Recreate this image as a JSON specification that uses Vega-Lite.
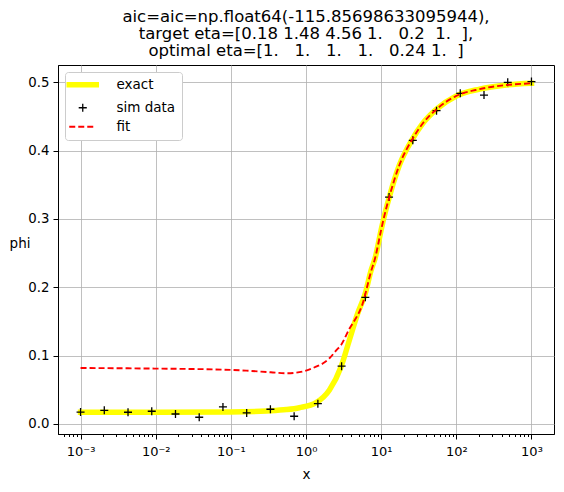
{
  "$schema": "https://vega.github.io/schema/vega-lite/v6.json",
  "width": 496,
  "height": 369,
  "autosize": {"type": "none"},
  "padding": {"left": 58, "top": 65, "right": 10, "bottom": 58},
  "background": "white",
  "title": {
    "text": ["aic=aic=np.float64(-115.85698633095944),", "target eta=[0.18 1.48 4.56 1.\u00a0\u00a0 0.2\u00a0 1.\u00a0 ],", "optimal eta=[1.\u00a0\u00a0 1.\u00a0\u00a0 1.\u00a0\u00a0 1.\u00a0\u00a0 0.24 1.\u00a0 ]"],
    "font": "DejaVu Sans",
    "fontSize": 16.5,
    "fontWeight": "normal",
    "color": "black",
    "anchor": "middle",
    "offset": 5,
    "lineHeight": 17.2
  },
  "config": {
    "font": "DejaVu Sans",
    "view": {"stroke": "black", "strokeWidth": 1},
    "axis": {
      "labelFont": "DejaVu Sans", "labelFontSize": 13.3, "labelColor": "black",
      "titleFont": "DejaVu Sans", "titleFontSize": 13.5, "titleFontWeight": "normal", "titleColor": "black",
      "tickColor": "black", "domainColor": "black", "gridColor": "#b0b0b0", "gridWidth": 0.8, "gridOpacity": 1,
      "tickSize": 5, "labelPadding": 4
    }
  },
  "data": {
    "values": [
      {"series": "exact", "x": 0.001, "phi": 0.0172},
      {"series": "exact", "x": 0.01, "phi": 0.0172},
      {"series": "exact", "x": 0.1, "phi": 0.0175},
      {"series": "exact", "x": 0.3, "phi": 0.019},
      {"series": "exact", "x": 0.55, "phi": 0.021},
      {"series": "exact", "x": 0.815, "phi": 0.0238},
      {"series": "exact", "x": 1.36, "phi": 0.0312},
      {"series": "exact", "x": 2.05, "phi": 0.0497},
      {"series": "exact", "x": 2.93, "phi": 0.0838},
      {"series": "exact", "x": 3.78, "phi": 0.1229},
      {"series": "exact", "x": 4.88, "phi": 0.162},
      {"series": "exact", "x": 6.11, "phi": 0.19},
      {"series": "exact", "x": 7.35, "phi": 0.225},
      {"series": "exact", "x": 8.3, "phi": 0.2425},
      {"series": "exact", "x": 10, "phi": 0.284},
      {"series": "exact", "x": 10.7, "phi": 0.2985},
      {"series": "exact", "x": 12.9, "phi": 0.333},
      {"series": "exact", "x": 17.5, "phi": 0.379},
      {"series": "exact", "x": 25.6, "phi": 0.4155},
      {"series": "exact", "x": 35.9, "phi": 0.44},
      {"series": "exact", "x": 55.1, "phi": 0.461},
      {"series": "exact", "x": 100, "phi": 0.48},
      {"series": "exact", "x": 204, "phi": 0.49},
      {"series": "exact", "x": 464, "phi": 0.496},
      {"series": "exact", "x": 1000, "phi": 0.4985},
      {"series": "sim data", "x": 0.001, "phi": 0.0174},
      {"series": "sim data", "x": 0.002069, "phi": 0.02},
      {"series": "sim data", "x": 0.004281, "phi": 0.0171},
      {"series": "sim data", "x": 0.008859, "phi": 0.0186},
      {"series": "sim data", "x": 0.01833, "phi": 0.0146},
      {"series": "sim data", "x": 0.03793, "phi": 0.0098},
      {"series": "sim data", "x": 0.07848, "phi": 0.0249},
      {"series": "sim data", "x": 0.1624, "phi": 0.0161},
      {"series": "sim data", "x": 0.336, "phi": 0.0215},
      {"series": "sim data", "x": 0.6952, "phi": 0.0113},
      {"series": "sim data", "x": 1.4384, "phi": 0.0297},
      {"series": "sim data", "x": 2.976, "phi": 0.0846},
      {"series": "sim data", "x": 6.158, "phi": 0.1853},
      {"series": "sim data", "x": 12.74, "phi": 0.332},
      {"series": "sim data", "x": 26.37, "phi": 0.415},
      {"series": "sim data", "x": 54.56, "phi": 0.4585},
      {"series": "sim data", "x": 112.9, "phi": 0.4838},
      {"series": "sim data", "x": 233.6, "phi": 0.4813},
      {"series": "sim data", "x": 483.3, "phi": 0.4999},
      {"series": "sim data", "x": 1000, "phi": 0.5011},
      {"series": "fit", "x": 0.001, "phi": 0.0819},
      {"series": "fit", "x": 0.01, "phi": 0.081},
      {"series": "fit", "x": 0.078, "phi": 0.0795},
      {"series": "fit", "x": 0.16, "phi": 0.078},
      {"series": "fit", "x": 0.34, "phi": 0.0756},
      {"series": "fit", "x": 0.55, "phi": 0.0742},
      {"series": "fit", "x": 0.815, "phi": 0.0758},
      {"series": "fit", "x": 1.0, "phi": 0.078},
      {"series": "fit", "x": 1.36, "phi": 0.0838},
      {"series": "fit", "x": 1.69, "phi": 0.0888},
      {"series": "fit", "x": 2.05, "phi": 0.0961},
      {"series": "fit", "x": 2.54, "phi": 0.108},
      {"series": "fit", "x": 2.93, "phi": 0.1156},
      {"series": "fit", "x": 3.81, "phi": 0.14},
      {"series": "fit", "x": 4.19, "phi": 0.1473},
      {"series": "fit", "x": 5.69, "phi": 0.1766},
      {"series": "fit", "x": 7.35, "phi": 0.2235},
      {"series": "fit", "x": 8.3, "phi": 0.2425},
      {"series": "fit", "x": 10, "phi": 0.284},
      {"series": "fit", "x": 10.7, "phi": 0.2985},
      {"series": "fit", "x": 12.9, "phi": 0.333},
      {"series": "fit", "x": 17.5, "phi": 0.379},
      {"series": "fit", "x": 25.6, "phi": 0.4155},
      {"series": "fit", "x": 35.9, "phi": 0.44},
      {"series": "fit", "x": 55.1, "phi": 0.461},
      {"series": "fit", "x": 100, "phi": 0.48},
      {"series": "fit", "x": 204, "phi": 0.49},
      {"series": "fit", "x": 464, "phi": 0.496},
      {"series": "fit", "x": 1000, "phi": 0.4985}
    ]
  },
  "layer": [
    {
      "transform": [{"filter": "datum.series === 'exact'"}],
      "mark": {"type": "line", "strokeWidth": 5.5, "interpolate": "monotone", "strokeCap": "square"},
      "encoding": {
        "x": {"field": "x", "type": "quantitative",
          "scale": {"type": "log", "domain": [0.000501, 1995], "nice": false},
          "axis": {"values": [0.001, 0.01, 0.1, 1, 10, 100, 1000], "grid": true, "title": "x", "titlePadding": 9, "labelPadding": 6, "labelFontSize": 13,
            "labelExpr": "['10⁻³','10⁻²','10⁻¹','10⁰','10¹','10²','10³'][round(log(datum.value)/LN10)+3]"}},
        "y": {"field": "phi", "type": "quantitative",
          "scale": {"domain": [-0.0147, 0.5253], "nice": false, "zero": false},
          "axis": {"values": [0, 0.1, 0.2, 0.3, 0.4, 0.5], "format": ".1f", "grid": true, "title": "phi",
            "titleAngle": 0, "titleAlign": "right", "titleBaseline": "middle", "titleX": -28, "titleY": 178}},
        "color": {"field": "series", "type": "nominal",
          "scale": {"domain": ["exact", "sim data", "fit"], "range": ["#ffff00", "#000000", "#ff0000"]},
          "legend": {"title": null, "orient": "top-left", "offset": 7, "padding": 6, "fillColor": "white",
            "strokeColor": "#cccccc", "cornerRadius": 3, "labelFont": "DejaVu Sans", "labelFontSize": 13.5,
            "labelColor": "black", "symbolSize": 729, "symbolOffset": 5, "labelOffset": 27, "rowPadding": 4, "symbolType": "stroke",
            "encode": {"symbols": {"update": {
              "shape": {"signal": "datum.value === 'sim data' ? 'M-0.3,0H0.3M0,-0.3V0.3' : 'M-1,0H1'"},
              "strokeWidth": {"signal": "datum.value === 'exact' ? 5.5 : (datum.value === 'fit' ? 2 : 1.3)"},
              "strokeDash": {"signal": "datum.value === 'fit' ? [6, 3] : [1, 0]"},
              "strokeCap": {"signal": "datum.value === 'exact' ? 'square' : 'butt'"},
              "stroke": {"signal": "datum.value === 'exact' ? '#ffff00' : (datum.value === 'fit' ? '#ff0000' : '#000000')"},
              "fill": {"value": "transparent"},
              "opacity": {"value": 1}
            }}}}}
      }
    },
    {
      "transform": [{"filter": "datum.series === 'sim data'"}],
      "mark": {"type": "point", "shape": "M-1,0H1M0,-1V1", "filled": false, "size": 64, "strokeWidth": 1.3, "opacity": 1},
      "encoding": {
        "x": {"field": "x", "type": "quantitative",
          "scale": {"type": "log", "domain": [0.000501, 1995], "nice": false},
          "axis": {"orient": "bottom", "values": [0.0006, 0.0007, 0.0008, 0.0009, 0.002, 0.003, 0.004, 0.005, 0.006, 0.007, 0.008, 0.009, 0.02, 0.03, 0.04, 0.05, 0.06, 0.07, 0.08, 0.09, 0.2, 0.3, 0.4, 0.5, 0.6, 0.7, 0.8, 0.9, 2, 3, 4, 5, 6, 7, 8, 9, 20, 30, 40, 50, 60, 70, 80, 90, 200, 300, 400, 500, 600, 700, 800, 900],
            "labels": false, "grid": false, "domain": false, "tickSize": 2.5, "title": null}},
        "y": {"field": "phi", "type": "quantitative",
          "scale": {"domain": [-0.0147, 0.5253], "nice": false, "zero": false}},
        "color": {"field": "series", "type": "nominal",
          "scale": {"domain": ["exact", "sim data", "fit"], "range": ["#ffff00", "#000000", "#ff0000"]}}
      }
    },
    {
      "transform": [{"filter": "datum.series === 'fit'"}],
      "mark": {"type": "line", "strokeWidth": 1.9, "strokeDash": [6, 3], "interpolate": "monotone"},
      "encoding": {
        "x": {"field": "x", "type": "quantitative",
          "scale": {"type": "log", "domain": [0.000501, 1995], "nice": false}, "axis": null},
        "y": {"field": "phi", "type": "quantitative",
          "scale": {"domain": [-0.0147, 0.5253], "nice": false, "zero": false}},
        "color": {"field": "series", "type": "nominal",
          "scale": {"domain": ["exact", "sim data", "fit"], "range": ["#ffff00", "#000000", "#ff0000"]}}
      }
    }
  ],
  "resolve": {"axis": {"x": "independent"}}
}
